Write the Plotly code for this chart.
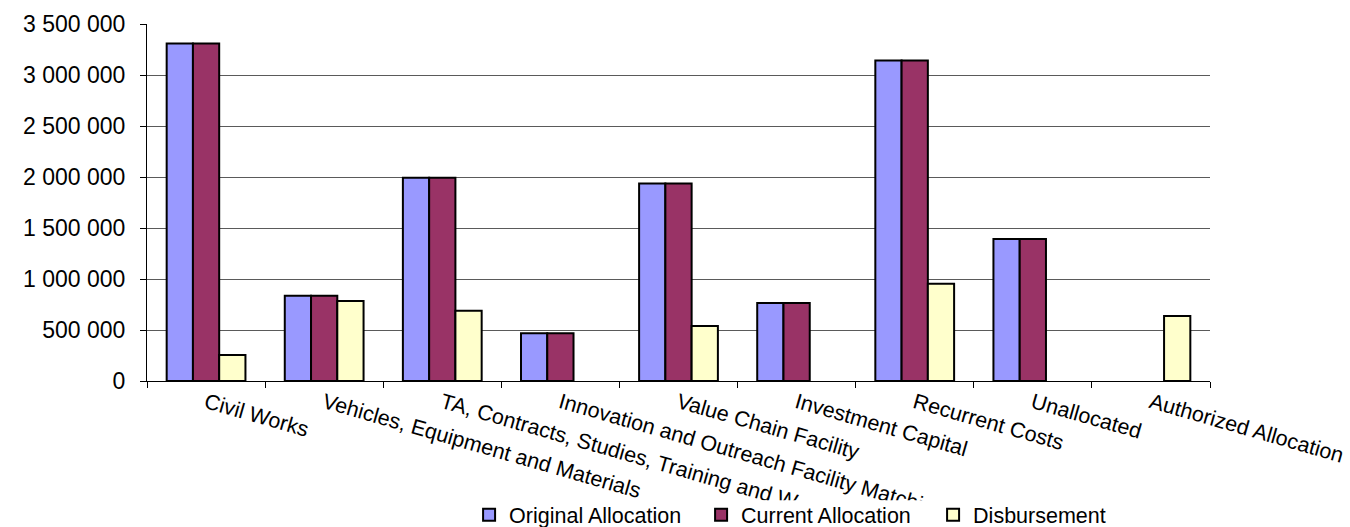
import plotly.graph_objects as go

categories = [
    "Civil Works",
    "Vehicles, Equipment and Materials",
    "TA, Contracts, Studies, Training and W",
    "Innovation and Outreach Facility Matchi",
    "Value Chain Facility",
    "Investment Capital",
    "Recurrent Costs",
    "Unallocated",
    "Authorized Allocation",
]
original_allocation = [3308000, 836000, 1992000, 467000, 1937000, 764000, 3141000, 1391000, None]
current_allocation = [3308000, 836000, 1992000, 467000, 1937000, 764000, 3141000, 1391000, None]
disbursement = [255000, 784000, 689000, None, 539000, None, 953000, None, 637000]

series = [
    ("Original Allocation", original_allocation, "#9999FF"),
    ("Current Allocation", current_allocation, "#993366"),
    ("Disbursement", disbursement, "#FFFFCC"),
]

FONT = "Liberation Sans, Arial, sans-serif"

fig = go.Figure()
for name, vals, color in series:
    fig.add_trace(go.Bar(
        name=name, x=categories, y=vals,
        marker=dict(color=color, line=dict(color="black", width=2)),
    ))

# white band that clips the over-long category labels like the original
fig.add_shape(
    type="rect", xref="paper", yref="paper",
    x0=-0.2, x1=1.2, y0=-0.334, y1=-0.45,
    fillcolor="white", line=dict(width=0), layer="above",
)

fig.update_layout(
    width=1350, height=527,
    margin=dict(l=147, r=140, t=24, b=146, autoexpand=False),
    paper_bgcolor="white", plot_bgcolor="white",
    barmode="group", bargap=0.333, bargroupgap=0,
    separators=". ",
    font=dict(family=FONT, color="black"),
    showlegend=True,
    legend=dict(
        orientation="h", x=0.303, xanchor="left", y=-0.375, yanchor="middle",
        font=dict(size=21.5, family=FONT, color="black"),
        entrywidth=187, entrywidthmode="pixels",
        itemwidth=30, tracegroupgap=0, bgcolor="rgba(0,0,0,0)",
    ),
)
fig.update_yaxes(
    range=[0, 3500000], tick0=0, dtick=500000, tickformat=",d",
    showgrid=True, gridcolor="#5a5a5a", gridwidth=1,
    showline=True, linecolor="black", linewidth=1,
    ticks="outside", ticklen=6, tickcolor="black", ticklabelstandoff=10,
    tickfont=dict(size=23, family=FONT, color="black"),
    zeroline=False, mirror=False, automargin=False,
)
fig.update_xaxes(
    showline=True, linecolor="black", linewidth=1,
    ticks="outside", ticklen=6, tickcolor="black", tickson="boundaries",
    tickangle=16, tickfont=dict(size=21.5, family=FONT, color="black"),
    showgrid=False, automargin=False,
)
fig.write_html("out.html")
